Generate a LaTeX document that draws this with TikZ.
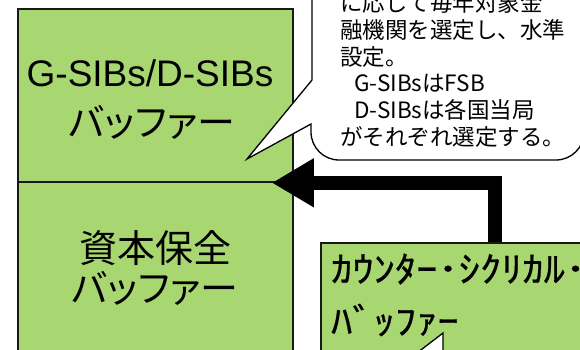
\documentclass[tikz,border=0pt]{standalone}
\usepackage{fontspec}
\setmainfont{Liberation Sans}
\newfontfamily\jp{Noto Sans CJK JP}
\newfontfamily\jpb[FakeBold=0.6]{Noto Sans CJK JP}
\newfontfamily\jpp[RawFeature=+palt]{Noto Sans CJK JP}
\usetikzlibrary{arrows.meta}
\definecolor{boxgreen}{RGB}{168,215,113}
\tikzset{
  box/.style={draw=black!90, line width=1.8pt, fill=boxgreen, inner sep=0pt, anchor=north west},
  bigtxt/.style={font=\fontsize{37}{40}\selectfont, inner sep=0pt},
  bigjp/.style={font=\jpp\fontsize{38}{40}\selectfont, inner sep=0pt},
  calltxt/.style={font=\jp\fontsize{22.5}{26}\selectfont, inner sep=0pt, anchor=base west},
  callout/.style={draw=black, line width=1.3pt, fill=white},
  narrowtxt/.style={font=\jpb\fontsize{42.5}{44}\selectfont, inner sep=0pt, anchor=west},
  thickarrow/.style={line width=14pt, line join=miter, -{Triangle[length=42pt,width=46pt]}}
}
\begin{document}
\begin{tikzpicture}[x=1pt,y=-1pt]
\useasboundingbox (0,0) rectangle (580,350);
\clip (0,0) rectangle (580,350);
% left boxes
\node[box, minimum width=275pt, minimum height=173pt] (gsib) at (17,8) {};
\node[box, minimum width=275pt, minimum height=185pt] (cons) at (17,181) {};
\node[bigtxt] (g1) at (150,73) {G-SIBs/D-SIBs};
\node[bigjp] (g2) at (152,122) {バッファー};
\node[bigjp] (c1) at (155,248) {資本保全};
\node[bigjp] (c2) at (155,288) {バッファー};
% callout
\draw[callout] (312,-20) -- (312,80) -- (247,159) -- (311,124) -- (311,132)
  [rounded corners=28pt] -- (311,160) -- (584,160) -- (584,-20);
\node[calltxt] (t1) at (340,12) {に応じて毎年対象金};
\node[calltxt] (t2) at (340,38.6) {融機関を選定し、水準};
\node[calltxt] (t3) at (340,65.2) {設定。};
\node[calltxt] (t4) at (354,91.8) {G-SIBsはFSB};
\node[calltxt] (t5) at (354,118.4) {D-SIBsは各国当局};
\node[calltxt] (t6) at (340,145) {がそれぞれ選定する。};
% counter-cyclical box
\node[box, minimum width=290pt, minimum height=130pt] (ccyb) at (320,242) {};
\node[narrowtxt] (k1) at (331,269) {\scalebox{1}[0.84]{ｶｳﾝﾀｰ･ｼｸﾘｶﾙ･}};
\node[narrowtxt] (k2) at (331,320) {\scalebox{1}[0.84]{ﾊﾞｯﾌｧｰ}};
% arrow
\draw[thickarrow] ([xshift=174.5pt]ccyb.north west) |- ([xshift=-22pt]gsib.south east);
% lower pointer
\draw[callout] (413,356) -- (443,333) -- (443,356);
\end{tikzpicture}
\end{document}
